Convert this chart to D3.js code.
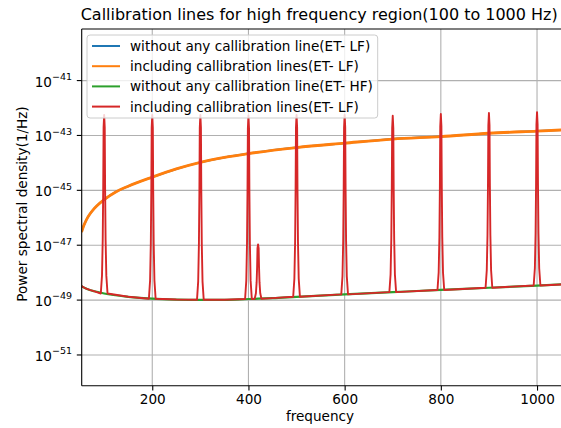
<!DOCTYPE html>
<html>
<head>
<meta charset="utf-8">
<script src="https://cdn.jsdelivr.net/npm/d3@7"></script>
<style>
body { margin: 0; background: #fff; }
text { font-family: "DejaVu Sans", sans-serif; fill: #000; }
</style>
</head>
<body>
<div id="chart"></div>
<script>
var width = 561,
height = 428;

var plot = {left: 81.7, top: 29, right: 563, bottom: 385.7};

// ET-LF noise curve (log10 of PSD), blue and orange share it
var lfFreq = [53, 56, 60, 65, 70, 77, 85, 100, 125, 150, 200, 250, 300, 350, 400, 500, 600, 700, 800, 900, 1000, 1050];
var lfLog = [-46.52, -46.36, -46.19, -46.01, -45.87, -45.71, -45.56, -45.34, -45.05, -44.85, -44.52, -44.22, -43.98, -43.8, -43.66, -43.44, -43.28, -43.13, -43.04, -42.92, -42.84, -42.8];

// ET-HF floor (log10 of PSD)
var hfFreq = [53, 60, 70, 80, 100, 150, 200, 250, 300, 350, 400, 420, 450, 500, 600, 700, 800, 900, 1000, 1050];
var hfLog = [-48.49, -48.56, -48.63, -48.68, -48.76, -48.88, -48.95, -48.98, -48.99, -48.99, -48.96, -48.95, -48.93, -48.88, -48.79, -48.71, -48.63, -48.55, -48.47, -48.43];

// calibration lines: position and top (log10)
var peakFreq = [100, 200, 300, 400, 420, 500, 600, 700, 800, 900, 1000];
var peakLog = [-42.25, -42.25, -42.25, -42.27, -46.97, -42.25, -42.25, -42.28, -42.22, -42.18, -42.15];
// shape of one line: offset in Hz, share of the rise
var peakOffset = [-7, -4.5, -3, -2, -1.2, 0, 1.2, 2, 3, 4.5, 7];
var peakShare = [0, 0.1, 0.3, 0.58, 0.93, 1, 0.93, 0.58, 0.3, 0.1, 0];

var xTicks = [200, 400, 600, 800, 1000];
var yTicks = [-51, -49, -47, -45, -43, -41];

var seriesNames = ["without any callibration line(ET- LF)",
    "including callibration lines(ET- LF)",
    "without any callibration line(ET- HF)",
    "including callibration lines(ET- LF)"];
var seriesColors = ["#1f77b4", "#ff7f0e", "#2ca02c", "#d62728"];

var svg = d3.select("#chart")
.append("svg")
.attr("width", width)
.attr("height", height);

var xScale = d3.scaleLinear()
.domain([53.3, 1054])
.range([plot.left, plot.right]);

var yScale = d3.scaleLog()
.domain([Math.pow(10, -52.12), Math.pow(10, -39.12)])
.range([plot.bottom, plot.top]);

svg.append("clipPath")
.attr("id", "clip")
.append("rect")
.attr("x", plot.left)
.attr("y", plot.top)
.attr("width", plot.right - plot.left)
.attr("height", plot.bottom - plot.top);

//Grid
var grid = svg.append("g").attr("stroke", "#b0b0b0").attr("stroke-width", 1.1);
grid.selectAll(".gx")
.data(xTicks)
.enter()
.append("line")
.attr("x1", function(d) { return xScale(d); })
.attr("x2", function(d) { return xScale(d); })
.attr("y1", plot.top)
.attr("y2", plot.bottom);
grid.selectAll(".gy")
.data(yTicks)
.enter()
.append("line")
.attr("x1", plot.left)
.attr("x2", plot.right)
.attr("y1", function(d) { return yScale(Math.pow(10, d)); })
.attr("y2", function(d) { return yScale(Math.pow(10, d)); });

//Build series
var lfData = lfFreq.map(function(f, i) { return [f, lfLog[i]]; });
var hfData = hfFreq.map(function(f, i) { return [f, hfLog[i]]; });

var redData = [];
hfFreq.forEach(function(f, i) {
    if (peakFreq.indexOf(f) < 0) redData.push([f, hfLog[i]]);
});
peakFreq.forEach(function(p, k) {
    var base = hfLog[hfFreq.indexOf(p)];
    peakOffset.forEach(function(o, j) {
        redData.push([p + o, base + peakShare[j] * (peakLog[k] - base)]);
    });
});
redData.sort(function(a, b) { return a[0] - b[0]; });

var smooth = d3.line()
.curve(d3.curveMonotoneX)
.x(function(d) { return xScale(d[0]); })
.y(function(d) { return yScale(Math.pow(10, d[1])); });

var line = d3.line()
.x(function(d) { return xScale(d[0]); })
.y(function(d) { return yScale(Math.pow(10, d[1])); });

var seriesData = [lfData, lfData, hfData, redData];
var seriesWidth = [2, 2.8, 2.2, 1.9];

svg.append("g")
.attr("clip-path", "url(#clip)")
.selectAll("path")
.data(seriesData)
.enter()
.append("path")
.attr("d", function(d, i) { return i < 3 ? smooth(d) : line(d); })
.attr("fill", "none")
.attr("stroke", function(d, i) { return seriesColors[i]; })
.attr("stroke-width", function(d, i) { return seriesWidth[i]; })
.attr("stroke-linejoin", "round");

//Axes
var xAxis = d3.axisBottom(xScale)
.tickValues(xTicks)
.tickFormat(d3.format("d"))
.tickSizeOuter(0)
.tickSize(4.9)
.tickPadding(4);

var gx = svg.append("g")
.attr("transform", "translate(0," + plot.bottom + ")")
.call(xAxis);
gx.select(".domain").remove();
gx.selectAll("text")
.attr("font-size", 13.6)
.attr("font-family", "DejaVu Sans")
.attr("fill", "#000");
gx.selectAll("line").attr("stroke", "#000").attr("stroke-width", 1.1);

var gy = svg.append("g");
gy.selectAll("line")
.data(yTicks)
.enter()
.append("line")
.attr("x1", plot.left - 4.9)
.attr("x2", plot.left)
.attr("y1", function(d) { return yScale(Math.pow(10, d)); })
.attr("y2", function(d) { return yScale(Math.pow(10, d)); })
.attr("stroke", "#000")
.attr("stroke-width", 1.1);

var ylab = gy.selectAll("text")
.data(yTicks)
.enter()
.append("text")
.attr("x", 72)
.attr("y", function(d) { return yScale(Math.pow(10, d)) + 6; })
.attr("text-anchor", "end")
.attr("font-size", 13.6);
ylab.append("tspan").text("10");
ylab.append("tspan")
.attr("font-size", 9.5)
.attr("dy", -6.7)
.text(function(d) { return "\u2212" + Math.abs(d); });

//Spines
svg.append("line")
.attr("x1", plot.left).attr("x2", plot.left)
.attr("y1", plot.top).attr("y2", plot.bottom)
.attr("stroke", "#000").attr("stroke-width", 1.1);
svg.append("line")
.attr("x1", plot.left).attr("x2", plot.right)
.attr("y1", plot.bottom).attr("y2", plot.bottom)
.attr("stroke", "#000").attr("stroke-width", 1.1);
svg.append("line")
.attr("x1", plot.left).attr("x2", plot.right)
.attr("y1", plot.top).attr("y2", plot.top)
.attr("stroke", "#000").attr("stroke-width", 1.1);

//Labels
svg.append("text")
.attr("x", 80.7)
.attr("y", 19.5)
.attr("font-size", 15.9)
.attr("textLength", 477)
.attr("lengthAdjust", "spacingAndGlyphs")
.text("Callibration lines for high frequency region(100 to 1000 Hz)");

svg.append("text")
.attr("x", 320)
.attr("y", 421)
.attr("text-anchor", "middle")
.attr("font-size", 13.6)
.text("frequency");

svg.append("text")
.attr("transform", "translate(26.5,204) rotate(-90)")
.attr("text-anchor", "middle")
.attr("font-size", 13.6)
.text("Power spectral density(1/Hz)");

//Legend
var legend = svg.append("g");
legend.append("rect")
.attr("x", 87)
.attr("y", 35)
.attr("width", 290.7)
.attr("height", 83)
.attr("rx", 3)
.attr("fill", "#fff")
.attr("fill-opacity", 0.8)
.attr("stroke", "#cccccc")
.attr("stroke-width", 1);

var rows = legend.selectAll(".row")
.data(seriesNames)
.enter()
.append("g")
.attr("transform", function(d, i) { return "translate(0," + (46 + i * 20.2) + ")"; });

rows.append("line")
.attr("x1", 92)
.attr("x2", 120)
.attr("stroke", function(d, i) { return seriesColors[i]; })
.attr("stroke-width", 2);

rows.append("text")
.attr("x", 130)
.attr("y", 5)
.attr("font-size", 13.6)
.text(function(d) { return d; });
</script>
</body>
</html>
